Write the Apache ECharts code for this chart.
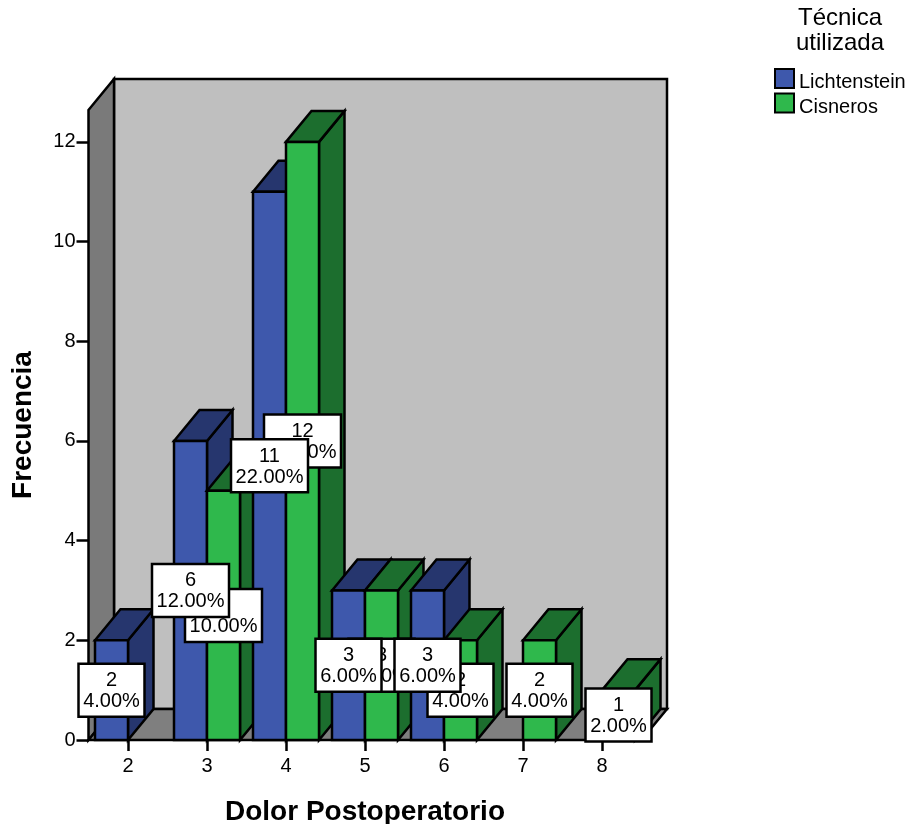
<!DOCTYPE html>
<html>
<head>
<meta charset="utf-8">
<style>html,body{margin:0;padding:0;background:#fff}#c{width:910px;height:824px}</style>
<script src="https://cdn.jsdelivr.net/npm/echarts@6/dist/echarts.min.js"></script>
</head>
<body>
<div id="c"></div>
<script>
var categories = ['2','3','4','5','6','7','8'];
var lichtenstein = [2,6,11,3,3,null,null];
var cisneros = [null,5,12,3,2,2,1];
var lichtensteinPct = ['4.00%','12.00%','22.00%','6.00%','6.00%',null,null];
var cisnerosPct = [null,'10.00%','24.00%','6.00%','4.00%','4.00%','2.00%'];
var yTicks = [0,2,4,6,8,10,12];

var FONT = '"Liberation Sans", Arial, sans-serif';
var DX = 25.5, DY = -31, BAR = 33/79, STROKE = 2.5;
var LINE = {stroke:'#000', lineWidth:STROKE, lineJoin:'miter'};

function poly(points, fill, z2){
  return {type:'polygon', z2:z2, shape:{points:points}, style:Object.assign({fill:fill}, LINE)};
}
function walls(params){
  var g = params.coordSys, l = g.x, r = g.x+g.width, t = g.y, b = g.y+g.height;
  return {type:'group', children:[
    poly([[l+DX,t+DY],[r+DX,t+DY],[r+DX,b+DY],[l+DX,b+DY]], '#bfbfbf', 0),
    poly([[l,t],[l+DX,t+DY],[l+DX,b+DY],[l,b]], '#7a7a7a', 1),
    poly([[l,b],[l+DX,b+DY],[r+DX,b+DY],[r,b]], '#7f7f7f', 1)
  ]};
}
function barRender(side, front, darkTop, order){
  return function(params, api){
    var v = api.value(1);
    if (v == null || isNaN(v)) return null;
    var c = api.value(0);
    var w = api.size([1,0])[0]*BAR;
    var p = api.coord([c,v]), o = api.coord([c,0]);
    var x0 = side < 0 ? p[0]-w : p[0], x1 = x0+w, yt = p[1], yb = o[1];
    var z = 10 + c*2 + order;
    return {type:'group', children:[
      poly([[x1,yt],[x1+DX,yt+DY],[x1+DX,yb+DY],[x1,yb]], darkTop, z),
      poly([[x0,yt],[x0+DX,yt+DY],[x1+DX,yt+DY],[x1,yt]], darkTop, z),
      poly([[x0,yt],[x1,yt],[x1,yb],[x0,yb]], front, z)
    ]};
  };
}
function labelRender(side, base){
  return function(params, api){
    var v = api.value(1);
    if (v == null || isNaN(v)) return null;
    var c = api.value(0);
    var w = api.size([1,0])[0]*BAR;
    var p = api.coord([c,v]), o = api.coord([c,0]);
    var cx = p[0]+side*w/2, cy = (p[1]+o[1])/2;
    var pct = api.value(2);
    var text = v+'\n'+pct;
    var bw = pct.length > 5 ? 77 : 66, bh = 53;
    return {type:'group', children:[
      {type:'rect', z2:base+c*2, shape:{x:cx-bw/2,y:cy-bh/2,width:bw,height:bh},
        style:{fill:'#fff',stroke:'#000',lineWidth:STROKE}},
      {type:'text', z2:base+c*2+1, x:cx, y:cy+1,
        style:{text:text,fill:'#000',font:'20px '+FONT,align:'center',verticalAlign:'middle',lineHeight:21}}
    ]};
  };
}
function rows(vals,pcts){
  return vals.map(function(v,i){return [i,v,pcts[i]];});
}

var chart = echarts.init(document.getElementById('c'),null,{renderer:'canvas'});
chart.setOption({
  animation:false,
  backgroundColor:'#fff',
  textStyle:{fontFamily:FONT},
  title:{
    text:'Técnica\nutilizada', left:835, top:1, textAlign:'center',
    textStyle:{fontFamily:FONT,fontSize:24,fontWeight:'normal',color:'#000',lineHeight:25}
  },
  legend:{
    left:774, top:68, padding:0, orient:'vertical', itemWidth:19, itemHeight:19, itemGap:0,
    selectedMode:false, icon:'rect',
    data:['Lichtenstein','Cisneros'],
    formatter:'{t|{name}}',
    textStyle:{fontFamily:FONT,fontSize:20,color:'#000',
      rich:{t:{fontFamily:FONT,fontSize:20,color:'#000',padding:[8,0,0,0]}}}
  },
  grid:{left:88.5,top:110,width:553,height:630,containLabel:false,outerBoundsMode:'none'},
  xAxis:{
    type:'category', data:categories, boundaryGap:true,
    name:'Dolor Postoperatorio', nameLocation:'middle', nameGap:58,
    nameTextStyle:{fontFamily:FONT,fontSize:28,fontWeight:'bold',color:'#000'},
    axisLine:{show:true,lineStyle:{color:'#000',width:2}},
    axisTick:{show:true,alignWithLabel:true,length:11,lineStyle:{color:'#000',width:2.5}},
    axisLabel:{fontFamily:FONT,fontSize:20,color:'#000',margin:16},
    splitLine:{show:false}
  },
  yAxis:{
    type:'value', min:0, max:12.64,
    name:'Frecuencia', nameLocation:'middle', nameGap:51, nameRotate:90,
    nameTextStyle:{fontFamily:FONT,fontSize:28,fontWeight:'bold',color:'#000'},
    axisLine:{show:true,lineStyle:{color:'#000',width:2}},
    axisTick:{show:true,length:12,customValues:yTicks,lineStyle:{color:'#000',width:2.5}},
    axisLabel:{fontFamily:FONT,fontSize:20,color:'#000',margin:13,customValues:yTicks,padding:[8,0,0,0]},
    splitLine:{show:false}
  },
  series:[
    {type:'custom',name:'walls',coordinateSystem:'cartesian2d',silent:true,z:2,
      data:[[0,0]],encode:{x:0,y:1},renderItem:walls},
    {type:'custom',name:'Lichtenstein',coordinateSystem:'cartesian2d',z:2,
      itemStyle:{color:'#3e58ac',borderColor:'#000',borderWidth:2.5},
      data:rows(lichtenstein,lichtensteinPct),encode:{x:0,y:1},
      renderItem:barRender(-1,'#3e58ac','#26366e',0)},
    {type:'custom',name:'Cisneros',coordinateSystem:'cartesian2d',z:2,
      itemStyle:{color:'#2fb84c',borderColor:'#000',borderWidth:2.5},
      data:rows(cisneros,cisnerosPct),encode:{x:0,y:1},
      renderItem:barRender(1,'#2fb84c','#1c6e2e',1)},
    {type:'custom',name:'etiquetas-c',coordinateSystem:'cartesian2d',z:2,silent:true,
      data:rows(cisneros,cisnerosPct),encode:{x:0,y:1},renderItem:labelRender(1,100)},
    {type:'custom',name:'etiquetas-l',coordinateSystem:'cartesian2d',z:2,silent:true,
      data:rows(lichtenstein,lichtensteinPct),encode:{x:0,y:1},renderItem:labelRender(-1,200)}
  ]
});
</script>
</body>
</html>
